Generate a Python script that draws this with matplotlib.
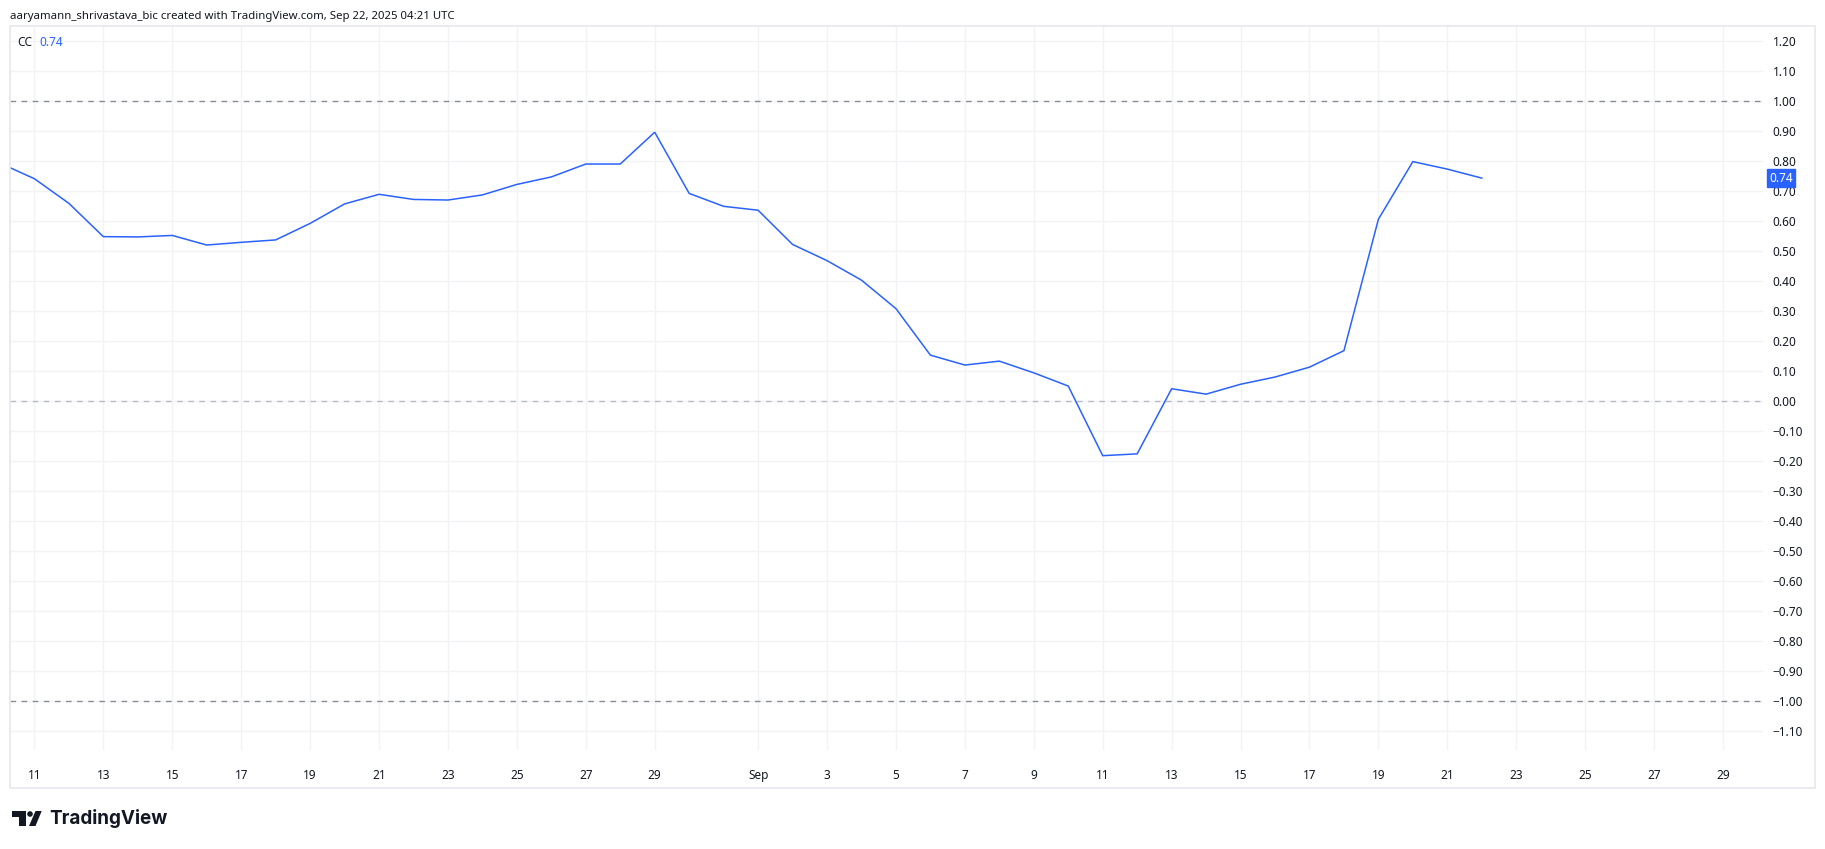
import matplotlib.pyplot as plt
import matplotlib.patches as mpatches
import numpy as np
import pandas as pd

# Correlation coefficient (CC), daily closes
start_date = '2025-08-10'
cc_values = [0.792, 0.740, 0.658, 0.547, 0.546, 0.551, 0.519, 0.528, 0.536, 0.591,
             0.656, 0.688, 0.671, 0.669, 0.686, 0.721, 0.746, 0.789, 0.789, 0.895,
             0.691, 0.648, 0.635, 0.521, 0.467, 0.402, 0.307, 0.152, 0.119, 0.132,
             0.093, 0.049, -0.183, -0.177, 0.040, 0.022, 0.055, 0.079, 0.112, 0.167,
             0.605, 0.797, 0.772, 0.742]
dates = pd.date_range(start_date, periods=len(cc_values), freq='D')

# reference levels (dashed)
level_lines = [1.0, 0.0, -1.0]
level_colors = ['#8a8d96', '#b8bbc3', '#8a8d96']

# axis ticks
y_ticks = np.round(np.arange(-1.1, 1.21, 0.1), 2)
x_tick_dates = pd.to_datetime(['2025-08-11', '2025-08-13', '2025-08-15', '2025-08-17', '2025-08-19',
                               '2025-08-21', '2025-08-23', '2025-08-25', '2025-08-27', '2025-08-29',
                               '2025-09-01', '2025-09-03', '2025-09-05', '2025-09-07', '2025-09-09',
                               '2025-09-11', '2025-09-13', '2025-09-15', '2025-09-17', '2025-09-19',
                               '2025-09-21', '2025-09-23', '2025-09-25', '2025-09-27', '2025-09-29'])
x_tick_labels = ['11', '13', '15', '17', '19', '21', '23', '25', '27', '29',
                 'Sep', '3', '5', '7', '9', '11', '13', '15', '17', '19',
                 '21', '23', '25', '27', '29']

header = 'aaryamann_shrivastava_bic created with TradingView.com, Sep 22, 2025 04:21 UTC'

BLUE = '#2962ff'
TEXT = '#131722'
GRID = '#f2f3f6'

plt.rcParams['font.family'] = ['Noto Sans', 'DejaVu Sans']

W, H = 1825, 849
fig = plt.figure(figsize=(W / 100, H / 100), dpi=100)
fig.patch.set_facecolor('white')

# pixel helpers for the figure layout
def fx(px):
    return px / W

def fy(py):
    return 1 - py / H

left, right, top, bottom = 10, 1763, 26, 750
ax = fig.add_axes([fx(left), fy(bottom), fx(right - left), (bottom - top) / H])

ax.plot(dates, cc_values, color=BLUE, lw=1.1, solid_joinstyle='miter')

for lvl, c in zip(level_lines, level_colors):
    ax.axhline(lvl, color=c, lw=1, ls=(0, (4, 4)), zorder=1)

x0 = pd.Timestamp('2025-08-11')
ax.set_xlim(x0 - pd.Timedelta(days=0.708), x0 + pd.Timedelta(days=50.16))
ax.set_ylim(-1.164, 1.249)

ax.set_xticks(x_tick_dates)
ax.set_xticklabels(x_tick_labels)
ax.set_yticks(y_ticks)
ax.set_yticklabels([f'{v:.2f}'.replace('-', '\u2212') for v in y_ticks])
ax.yaxis.tick_right()
ax.tick_params(axis='both', length=0, labelsize=8.5, colors=TEXT)
ax.tick_params(axis='y', pad=7)
ax.tick_params(axis='x', pad=14)
ax.grid(True, color=GRID, lw=1)
ax.set_axisbelow(True)
for s in ax.spines.values():
    s.set_visible(False)

# last value tag on the price scale
last = cc_values[-1]
ax.annotate(f'{last:.2f}', xy=(1, last), xycoords=('axes fraction', 'data'),
            xytext=(4.5, 0), textcoords='offset points', ha='left', va='center',
            fontsize=8.5, fontweight='bold', color='white',
            bbox=dict(boxstyle='square,pad=0.22', fc=BLUE, ec=BLUE))

# panel border
fig.add_artist(mpatches.Rectangle((fx(10), fy(788)), fx(1815 - 10), (788 - 26) / H,
                                  transform=fig.transFigure, fill=False,
                                  ec='#e6e8ee', lw=1.2))

# header and legend
fig.text(fx(10), fy(16), header, fontsize=8.2, color=TEXT, va='center', ha='left')
fig.text(fx(17), fy(42), 'CC', fontsize=8.5, color=TEXT, va='center', ha='left')
fig.text(fx(39), fy(42), f'{last:.2f}', fontsize=8.5, color=BLUE, va='center', ha='left')

# TradingView logo
logo_t = mpatches.Polygon([(fx(12.3), fy(811)), (fx(26), fy(811)), (fx(26), fy(826)),
                           (fx(18.5), fy(826)), (fx(18.5), fy(816.5)), (fx(12.3), fy(816.5))],
                          closed=True, transform=fig.transFigure, fc='#131722', ec='none')
logo_dot = mpatches.Ellipse((fx(30), fy(814)), 5.6 / W, 5.6 / H,
                            transform=fig.transFigure, fc='#131722', ec='none')
logo_slash = mpatches.Polygon([(fx(35.5), fy(811)), (fx(41.7), fy(811)), (fx(35.5), fy(826)),
                               (fx(29), fy(826))],
                              closed=True, transform=fig.transFigure, fc='#131722', ec='none')
for p in (logo_t, logo_dot, logo_slash):
    fig.add_artist(p)
fig.text(fx(49), fy(819), 'TradingView', fontsize=13.6, fontweight='bold',
         color='#131722', va='center', ha='left', family=['Inter', 'DejaVu Sans'])

fig.savefig('out.png', dpi=100, facecolor='white')
